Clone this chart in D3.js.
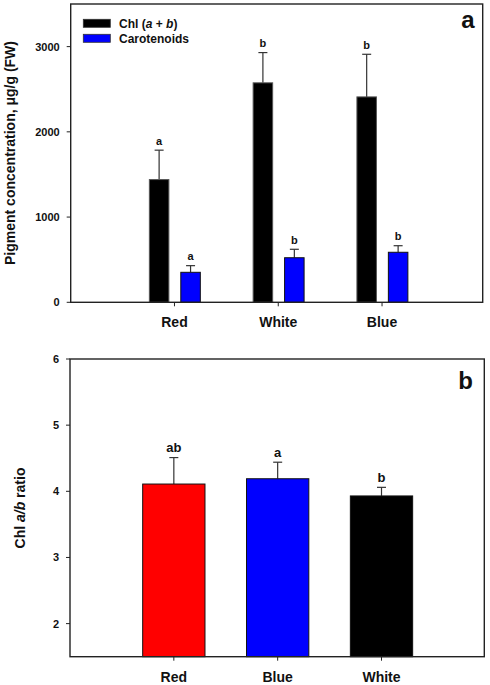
<!DOCTYPE html>
<html>
<head>
<meta charset="utf-8">
<script src="https://cdn.jsdelivr.net/npm/d3@7"></script>
<style>
    body { margin: 0; background: #fff; }
    svg text { font-family: "Liberation Sans", Arial, sans-serif; font-weight: bold; fill: #111; }
    .frame { fill: none; stroke: #222; stroke-width: 1.4; }
    .tick_line { stroke: #222; stroke-width: 1; }
    .err_line { stroke: #333; stroke-width: 1.2; }
</style>
</head>
<body>
<svg id="chart" width="490" height="685"></svg>
<script>
// panel a: pigment concentration
const pigment_categories = ['Red', 'White', 'Blue'];
const chl_values = [1440, 2575, 2410];
const chl_errors = [345, 355, 500];
const chl_letters = ['a', 'b', 'b'];
const car_values = [352, 523, 587];
const car_errors = [78, 99, 77];
const car_letters = ['a', 'b', 'b'];
const pigment_ticks = [0, 1000, 2000, 3000];

// panel b: chl a/b ratio
const ratio_categories = ['Red', 'Blue', 'White'];
const ratio_values = [4.11, 4.19, 3.93];
const ratio_errors = [0.40, 0.25, 0.13];
const ratio_letters = ['ab', 'a', 'b'];
const ratio_ticks = [2, 3, 4, 5, 6];

const svg = d3.select('#chart');

// frame, y ticks, x ticks common to both panels
function draw_axes(g, x, y, categories, y_ticks, y_fmt) {
    const [x0, x1] = x.range();
    const [y0, y1] = y.range();
    g.append('rect')
        .attr('x', x0)
        .attr('y', y1)
        .attr('width', x1 - x0)
        .attr('height', y0 - y1)
        .attr('class', 'frame')
    ;
    y_ticks.forEach(v => {
        g.append('line')
            .attr('x1', x0 - 4).attr('x2', x0)
            .attr('y1', y(v)).attr('y2', y(v))
            .attr('class', 'tick_line')
        ;
        g.append('text')
            .text(y_fmt(v))
            .attr('x', x0 - 11)
            .attr('y', y(v))
            .attr('dy', '0.36em')
            .attr('text-anchor', 'end')
            .style('font-size', '11px')
        ;
    });
    categories.forEach((c, i) => {
        g.append('line')
            .attr('x1', x(i + 1)).attr('x2', x(i + 1))
            .attr('y1', y0).attr('y2', y0 + 4)
            .attr('class', 'tick_line')
        ;
        g.append('text')
            .text(c)
            .attr('x', x(i + 1))
            .attr('y', y0 + 24.8)
            .attr('text-anchor', 'middle')
            .style('font-size', '14px')
        ;
    });
}

// bars with upward error bars and letters
function draw_bars(g, x, y, values, errors, letters, offset, width, fill, stroke, cap, letter_size) {
    const bw = x(width) - x(0);
    values.forEach((v, i) => {
        const cx = x(i + 1 + offset);
        const top_err = y(v + errors[i]);
        g.append('line')
            .attr('x1', cx).attr('x2', cx)
            .attr('y1', y(v)).attr('y2', top_err)
            .attr('class', 'err_line')
        ;
        g.append('line')
            .attr('x1', cx - cap / 2).attr('x2', cx + cap / 2)
            .attr('y1', top_err).attr('y2', top_err)
            .attr('class', 'err_line')
        ;
        g.append('rect')
            .attr('x', cx - bw / 2)
            .attr('y', y(v))
            .attr('width', bw)
            .attr('height', y(y.domain()[0]) - y(v))
            .attr('fill', typeof fill === 'function' ? fill(i) : fill)
            .attr('stroke', stroke)
            .attr('stroke-width', 1)
        ;
        g.append('text')
            .text(letters[i])
            .attr('x', cx)
            .attr('y', top_err - 5.5)
            .attr('text-anchor', 'middle')
            .style('font-size', letter_size)
        ;
    });
}

function draw_top() {
    const g = svg.append('g');
    const x = d3.scaleLinear().domain([0, 3.97]).range([70.7, 482.7]);
    const y = d3.scaleLinear().domain([0, 3500]).range([302.3, 4]);

    draw_bars(g, x, y, chl_values, chl_errors, chl_letters, -0.148, 0.188, '#000', '#555', 9, '11px');
    draw_bars(g, x, y, car_values, car_errors, car_letters, 0.155, 0.188, '#0000ff', '#111', 9, '11px');
    draw_axes(g, x, y, pigment_categories, pigment_ticks, d => d);

    // legend
    const legend = [
        {fill: '#000', parts: [['Chl (', 'normal'], ['a', 'italic'], [' + ', 'normal'], ['b', 'italic'], [')', 'normal']]},
        {fill: '#0000ff', parts: [['Carotenoids', 'normal']]}
    ];
    legend.forEach((d, i) => {
        const ly = 19.3 + i * 15;
        g.append('rect')
            .attr('x', 83.3).attr('y', ly)
            .attr('width', 27).attr('height', 8)
            .attr('fill', d.fill)
            .attr('stroke', '#333')
            .attr('stroke-width', 0.8)
        ;
        const t = g.append('text')
            .attr('x', 119)
            .attr('y', ly + 8.3)
            .style('font-size', '12px')
        ;
        d.parts.forEach(p => t.append('tspan').text(p[0]).style('font-style', p[1]));
    });

    g.append('text')
        .text('a')
        .attr('x', 474.5)
        .attr('y', 28)
        .attr('text-anchor', 'end')
        .style('font-size', '24px')
    ;
    g.append('text')
        .text('Pigment concentration, \u03bcg/g (FW)')
        .attr('transform', 'translate(15,153) rotate(-90)')
        .attr('text-anchor', 'middle')
        .style('font-size', '14px')
    ;
}

function draw_bottom() {
    const g = svg.append('g');
    const x = d3.scaleLinear().domain([0, 3.99]).range([70, 484.3]);
    const y = d3.scaleLinear().domain([1.5, 6]).range([656.7, 359]);
    const colour = d3.scaleOrdinal().domain(ratio_categories).range(['#ff0000', '#0000ff', '#000000']);

    draw_bars(g, x, y, ratio_values, ratio_errors, ratio_letters, 0, 0.6,
        i => colour(ratio_categories[i]), '#111', 9, '13px');
    draw_axes(g, x, y, ratio_categories, ratio_ticks, d => d);

    g.append('text')
        .text('b')
        .attr('x', 473)
        .attr('y', 389.3)
        .attr('text-anchor', 'end')
        .style('font-size', '24px')
    ;
    const t = g.append('text')
        .attr('transform', 'translate(25,508) rotate(-90)')
        .attr('text-anchor', 'middle')
        .style('font-size', '14px')
    ;
    [['Chl ', 'normal'], ['a/b', 'italic'], [' ratio', 'normal']].forEach(p =>
        t.append('tspan').text(p[0]).style('font-style', p[1]));
}

draw_top();
draw_bottom();
</script>
</body>
</html>
